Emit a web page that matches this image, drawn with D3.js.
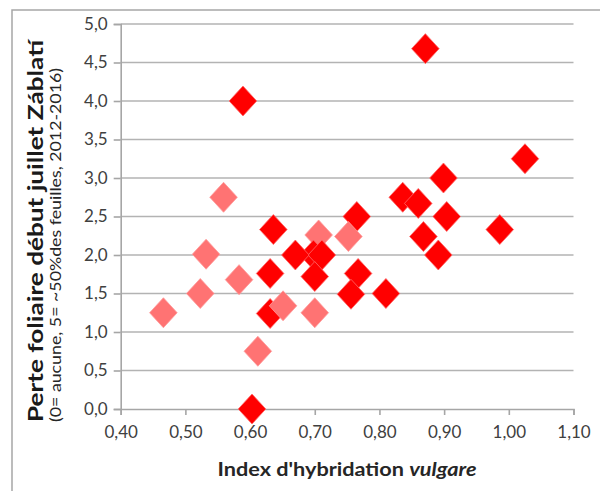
<!DOCTYPE html>
<html><head><meta charset="utf-8">
<script src="https://cdn.jsdelivr.net/npm/d3@7"></script>
<style>
html,body{margin:0;padding:0;background:#fff;}
svg{display:block;font-family:Lato,"Open Sans",sans-serif;}
</style></head>
<body><svg id="c" width="600" height="491"></svg>
<script>
// Data (draw order matters for overlaps)
const hybridIndex = [0.466,0.523,0.532,0.583,0.559,0.612,0.589,0.871,1.025,0.899,0.836,0.860,0.765,0.904,0.986,0.868,0.891,0.706,0.752,0.698,0.711,0.700,0.767,0.756,0.810,0.636,0.670,0.631,0.631,0.603,0.651,0.700];
const leafLoss    = [1.25,1.50,2.01,1.68,2.75,0.75,4.00,4.68,3.25,3.00,2.75,2.67,2.50,2.50,2.33,2.24,2.00,2.26,2.24,2.00,2.00,1.72,1.76,1.49,1.50,2.33,2.00,1.76,1.24,0.00,1.34,1.25];
const group       = [0,0,0,0,0,0,1,1,1,1,1,1,1,1,1,1,1,0,0,1,1,1,1,1,1,1,1,1,1,1,0,0];
const xTicks = [0.4,0.5,0.6,0.7,0.8,0.9,1.0,1.1];
const yTicks = [0,0.5,1,1.5,2,2.5,3,3.5,4,4.5,5];
const groupColors = ["#ff7373","#ff0000"];
const groupStroke = ["#ff9a9a","#ff6a6a"];

const svg = d3.select("#c");
const x = d3.scaleLinear().domain([0.4,1.1]).range([120.7,573.5]);
const y = d3.scaleLinear().domain([0,5]).range([409,24]);
const fmtX = v => d3.format(".2f")(v).replace(".", ",");
const fmtY = v => d3.format(".1f")(v).replace(".", ",");

// frame
svg.append("rect").attr("x",12).attr("y",10).attr("width",600).attr("height",500)
  .attr("fill","none").attr("stroke","#a6a6a6").attr("stroke-width",1.5);

// gridlines
svg.append("g").selectAll("line").data(yTicks.filter(d=>d>0)).join("line")
  .attr("x1",x(0.4)).attr("x2",x(1.1)).attr("y1",d=>y(d)).attr("y2",d=>y(d))
  .attr("stroke","#b3b3b3").attr("stroke-width",1.6);

// y axis
const ya = svg.append("g").attr("transform",`translate(${x(0.4)},0)`)
  .call(d3.axisLeft(y).tickValues(yTicks).tickFormat(fmtY).tickSize(7).tickPadding(6));
ya.select(".domain").attr("stroke","#a6a6a6").attr("stroke-width",1.6);
ya.selectAll(".tick line").attr("stroke","#a6a6a6").attr("stroke-width",1.6);
ya.selectAll("text").attr("font-size",17).attr("fill","#404040").attr("font-family","Lato");

// x axis
const xa = svg.append("g").attr("transform",`translate(0,${y(0)})`)
  .call(d3.axisBottom(x).tickValues(xTicks).tickFormat(fmtX).tickSize(6).tickPadding(11));
xa.select(".domain").attr("stroke","#a6a6a6").attr("stroke-width",1.6);
xa.selectAll(".tick line").attr("stroke","#a6a6a6").attr("stroke-width",1.6);
xa.selectAll("text").attr("font-size",17).attr("fill","#404040").attr("font-family","Lato");

// points
const diamond = "M0,-15L13.8,0L0,15L-13.8,0Z";
svg.append("g").selectAll("path").data(d3.range(hybridIndex.length)).join("path")
  .attr("d",diamond)
  .attr("transform",i=>`translate(${x(hybridIndex[i])},${y(leafLoss[i])})`)
  .attr("fill",i=>groupColors[group[i]])
  .attr("stroke",i=>groupStroke[group[i]]).attr("stroke-width",0.8);

// axis titles
const t = svg.append("text").attr("x",347).attr("y",476).attr("text-anchor","middle")
  .attr("font-size",19).attr("font-weight","bold").attr("fill","#262626").attr("font-family","Lato")
  .attr("textLength",259).attr("lengthAdjust","spacingAndGlyphs");
t.append("tspan").text("Index d'hybridation ");
t.append("tspan").attr("font-style","italic").text("vulgare");

svg.append("text").attr("transform","translate(43,231) rotate(-90)").attr("text-anchor","middle")
  .attr("font-size",20).attr("font-weight","bold").attr("fill","#1a1a1a").attr("font-family","Lato")
  .attr("textLength",382).attr("lengthAdjust","spacingAndGlyphs")
  .text("Perte foliaire début juillet Záblatí");
svg.append("text").attr("transform","translate(61,245) rotate(-90)").attr("text-anchor","middle")
  .attr("font-size",15).attr("fill","#262626").attr("font-family","Lato")
  .attr("textLength",354).attr("lengthAdjust","spacingAndGlyphs")
  .text("(0= aucune, 5= ~50%des feuilles, 2012-2016)");
</script></body></html>
